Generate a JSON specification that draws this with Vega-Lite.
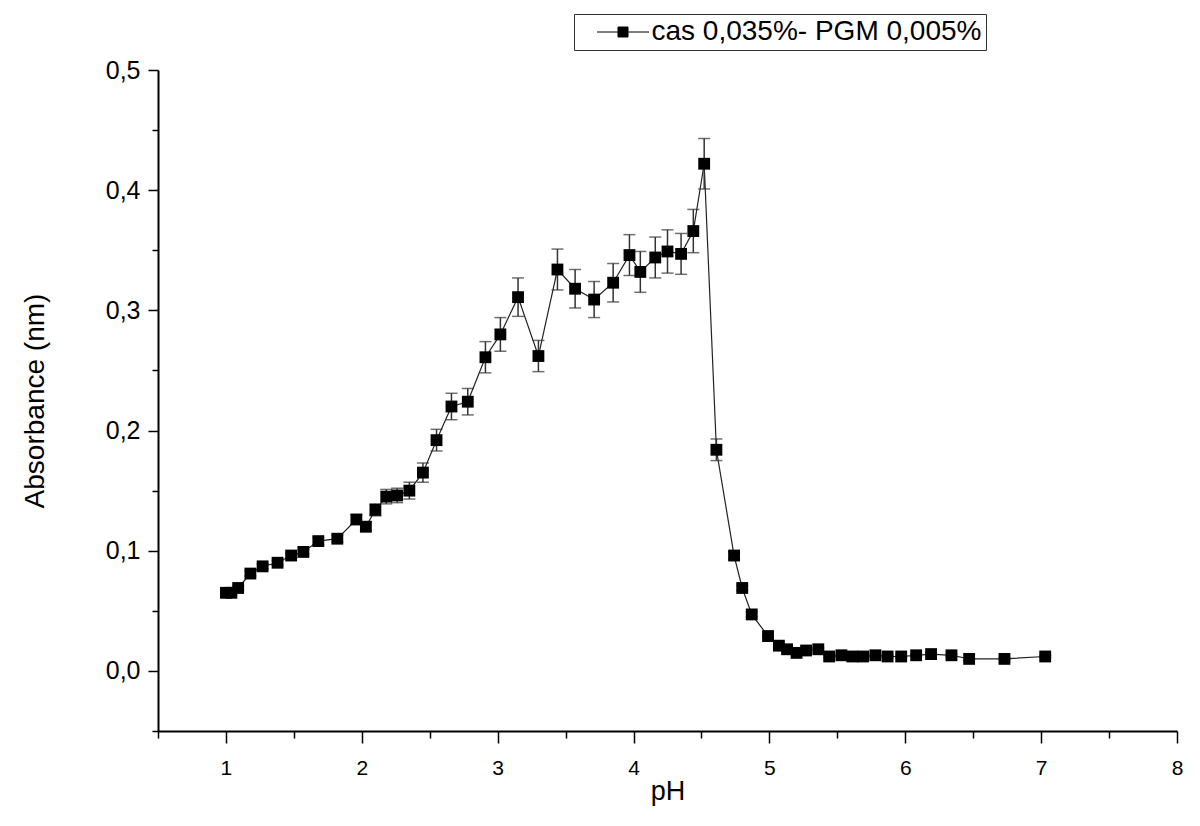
{
  "$schema": "https://vega.github.io/schema/vega-lite/v6.json",
  "width": 1019,
  "height": 661,
  "autosize": "none",
  "padding": {"left": 158, "top": 70, "right": 23, "bottom": 95},
  "background": "white",
  "config": {
    "view": {"stroke": null},
    "font": "Liberation Sans",
    "axis": {"domainColor": "black", "domainWidth": 2, "tickColor": "black", "tickWidth": 1.5, "labelColor": "black", "titleColor": "black", "labelFont": "Liberation Sans", "titleFont": "Liberation Sans", "titleFontWeight": "normal", "grid": false}
  },
  "data": {
    "values": [
      {"pH": 1.00, "abs": 0.065, "err": 0.002, "series": "cas 0,035%- PGM 0,005%"},
      {"pH": 1.04, "abs": 0.065, "err": 0.002, "series": "cas 0,035%- PGM 0,005%"},
      {"pH": 1.09, "abs": 0.069, "err": 0.002, "series": "cas 0,035%- PGM 0,005%"},
      {"pH": 1.18, "abs": 0.081, "err": 0.002, "series": "cas 0,035%- PGM 0,005%"},
      {"pH": 1.27, "abs": 0.087, "err": 0.002, "series": "cas 0,035%- PGM 0,005%"},
      {"pH": 1.38, "abs": 0.090, "err": 0.002, "series": "cas 0,035%- PGM 0,005%"},
      {"pH": 1.48, "abs": 0.096, "err": 0.002, "series": "cas 0,035%- PGM 0,005%"},
      {"pH": 1.57, "abs": 0.099, "err": 0.002, "series": "cas 0,035%- PGM 0,005%"},
      {"pH": 1.68, "abs": 0.108, "err": 0.003, "series": "cas 0,035%- PGM 0,005%"},
      {"pH": 1.82, "abs": 0.110, "err": 0.003, "series": "cas 0,035%- PGM 0,005%"},
      {"pH": 1.96, "abs": 0.126, "err": 0.004, "series": "cas 0,035%- PGM 0,005%"},
      {"pH": 2.03, "abs": 0.120, "err": 0.004, "series": "cas 0,035%- PGM 0,005%"},
      {"pH": 2.10, "abs": 0.134, "err": 0.005, "series": "cas 0,035%- PGM 0,005%"},
      {"pH": 2.18, "abs": 0.145, "err": 0.006, "series": "cas 0,035%- PGM 0,005%"},
      {"pH": 2.26, "abs": 0.146, "err": 0.006, "series": "cas 0,035%- PGM 0,005%"},
      {"pH": 2.35, "abs": 0.150, "err": 0.007, "series": "cas 0,035%- PGM 0,005%"},
      {"pH": 2.45, "abs": 0.165, "err": 0.008, "series": "cas 0,035%- PGM 0,005%"},
      {"pH": 2.55, "abs": 0.192, "err": 0.009, "series": "cas 0,035%- PGM 0,005%"},
      {"pH": 2.66, "abs": 0.220, "err": 0.011, "series": "cas 0,035%- PGM 0,005%"},
      {"pH": 2.78, "abs": 0.224, "err": 0.011, "series": "cas 0,035%- PGM 0,005%"},
      {"pH": 2.91, "abs": 0.261, "err": 0.013, "series": "cas 0,035%- PGM 0,005%"},
      {"pH": 3.02, "abs": 0.280, "err": 0.014, "series": "cas 0,035%- PGM 0,005%"},
      {"pH": 3.15, "abs": 0.311, "err": 0.016, "series": "cas 0,035%- PGM 0,005%"},
      {"pH": 3.30, "abs": 0.262, "err": 0.013, "series": "cas 0,035%- PGM 0,005%"},
      {"pH": 3.44, "abs": 0.334, "err": 0.017, "series": "cas 0,035%- PGM 0,005%"},
      {"pH": 3.57, "abs": 0.318, "err": 0.016, "series": "cas 0,035%- PGM 0,005%"},
      {"pH": 3.71, "abs": 0.309, "err": 0.015, "series": "cas 0,035%- PGM 0,005%"},
      {"pH": 3.85, "abs": 0.323, "err": 0.016, "series": "cas 0,035%- PGM 0,005%"},
      {"pH": 3.97, "abs": 0.346, "err": 0.017, "series": "cas 0,035%- PGM 0,005%"},
      {"pH": 4.05, "abs": 0.332, "err": 0.017, "series": "cas 0,035%- PGM 0,005%"},
      {"pH": 4.16, "abs": 0.344, "err": 0.017, "series": "cas 0,035%- PGM 0,005%"},
      {"pH": 4.25, "abs": 0.349, "err": 0.018, "series": "cas 0,035%- PGM 0,005%"},
      {"pH": 4.35, "abs": 0.347, "err": 0.017, "series": "cas 0,035%- PGM 0,005%"},
      {"pH": 4.44, "abs": 0.366, "err": 0.018, "series": "cas 0,035%- PGM 0,005%"},
      {"pH": 4.52, "abs": 0.422, "err": 0.021, "series": "cas 0,035%- PGM 0,005%"},
      {"pH": 4.61, "abs": 0.184, "err": 0.009, "series": "cas 0,035%- PGM 0,005%"},
      {"pH": 4.74, "abs": 0.096, "err": 0.003, "series": "cas 0,035%- PGM 0,005%"},
      {"pH": 4.80, "abs": 0.069, "err": 0.002, "series": "cas 0,035%- PGM 0,005%"},
      {"pH": 4.87, "abs": 0.047, "err": 0.002, "series": "cas 0,035%- PGM 0,005%"},
      {"pH": 4.99, "abs": 0.029, "err": 0.001, "series": "cas 0,035%- PGM 0,005%"},
      {"pH": 5.07, "abs": 0.021, "err": 0.001, "series": "cas 0,035%- PGM 0,005%"},
      {"pH": 5.13, "abs": 0.018, "err": 0.001, "series": "cas 0,035%- PGM 0,005%"},
      {"pH": 5.20, "abs": 0.015, "err": 0.001, "series": "cas 0,035%- PGM 0,005%"},
      {"pH": 5.27, "abs": 0.017, "err": 0.001, "series": "cas 0,035%- PGM 0,005%"},
      {"pH": 5.36, "abs": 0.018, "err": 0.001, "series": "cas 0,035%- PGM 0,005%"},
      {"pH": 5.44, "abs": 0.012, "err": 0.001, "series": "cas 0,035%- PGM 0,005%"},
      {"pH": 5.53, "abs": 0.013, "err": 0.001, "series": "cas 0,035%- PGM 0,005%"},
      {"pH": 5.61, "abs": 0.012, "err": 0.001, "series": "cas 0,035%- PGM 0,005%"},
      {"pH": 5.69, "abs": 0.012, "err": 0.001, "series": "cas 0,035%- PGM 0,005%"},
      {"pH": 5.78, "abs": 0.013, "err": 0.001, "series": "cas 0,035%- PGM 0,005%"},
      {"pH": 5.87, "abs": 0.012, "err": 0.001, "series": "cas 0,035%- PGM 0,005%"},
      {"pH": 5.97, "abs": 0.012, "err": 0.001, "series": "cas 0,035%- PGM 0,005%"},
      {"pH": 6.08, "abs": 0.013, "err": 0.001, "series": "cas 0,035%- PGM 0,005%"},
      {"pH": 6.19, "abs": 0.014, "err": 0.001, "series": "cas 0,035%- PGM 0,005%"},
      {"pH": 6.34, "abs": 0.013, "err": 0.001, "series": "cas 0,035%- PGM 0,005%"},
      {"pH": 6.47, "abs": 0.010, "err": 0.001, "series": "cas 0,035%- PGM 0,005%"},
      {"pH": 6.73, "abs": 0.010, "err": 0.001, "series": "cas 0,035%- PGM 0,005%"},
      {"pH": 7.03, "abs": 0.012, "err": 0.001, "series": "cas 0,035%- PGM 0,005%"}
    ]
  },
  "encoding": {
    "x": {
      "field": "pH", "type": "quantitative",
      "scale": {"domain": [0.5, 8], "nice": false, "zero": false},
      "axis": {
        "title": "pH", "titleFontSize": 27, "titlePadding": 0,
        "values": [0.5, 1, 1.5, 2, 2.5, 3, 3.5, 4, 4.5, 5, 5.5, 6, 6.5, 7, 7.5, 8],
        "labelExpr": "datum.value % 1 == 0 ? format(datum.value, 'd') : ''",
        "labelFontSize": 21, "labelPadding": 14, "labelFlush": false, "labelOverlap": false,
        "tickSize": {"condition": {"test": "datum.value % 1 == 0", "value": 12}, "value": 7}
      }
    },
    "y": {
      "field": "abs", "type": "quantitative",
      "scale": {"domain": [-0.05, 0.5], "nice": false, "zero": false},
      "axis": {
        "title": "Absorbance (nm)", "titleFontSize": 28, "titlePadding": 56,
        "values": [-0.05, 0, 0.05, 0.1, 0.15, 0.2, 0.25, 0.3, 0.35, 0.4, 0.45, 0.5],
        "labelExpr": "abs(round(datum.value * 100)) % 10 == 0 ? replace(format(datum.value, '.1f'), '.', ',') : ''",
        "labelFontSize": 25, "labelPadding": 8, "labelFlush": false, "labelOverlap": false,
        "tickSize": {"condition": {"test": "abs(round(datum.value * 100)) % 10 == 0", "value": 10}, "value": 6}
      }
    }
  },
  "layer": [
    {
      "mark": {"type": "line", "color": "#222222", "strokeWidth": 1.2},
      "encoding": {}
    },
    {
      "mark": {"type": "errorbar", "ticks": {"size": 12, "color": "#333333"}, "color": "#333333", "thickness": 1.5},
      "encoding": {"yError": {"field": "err"}}
    },
    {
      "mark": {"type": "point", "shape": "square", "filled": true, "size": 140, "opacity": 1},
      "encoding": {
        "color": {
          "field": "series", "type": "nominal",
          "scale": {"range": ["black"]},
          "legend": {
            "title": null, "orient": "none", "legendX": 416, "legendY": -56,
            "strokeColor": "#333333", "padding": 4,
            "symbolType": "M-2.6,0H-0.5M0.5,0H2.6M-0.5,-0.5H0.5V0.5H-0.5Z",
            "symbolSize": 400, "symbolStrokeWidth": 1, "symbolStrokeColor": "black", "symbolFillColor": "black",
            "symbolOffset": 31, "labelOffset": 14.5,
            "labelFontSize": 28, "labelColor": "black", "labelFont": "Liberation Sans",
            "labelExpr": "datum.label + '\u00a0\u00a0\u00a0'", "labelLimit": 600,
            "encode": {"symbols": {"update": {"stroke": {"value": "black"}, "strokeWidth": {"value": 1}, "fill": {"value": "black"}}}}
          }
        }
      }
    }
  ]
}
